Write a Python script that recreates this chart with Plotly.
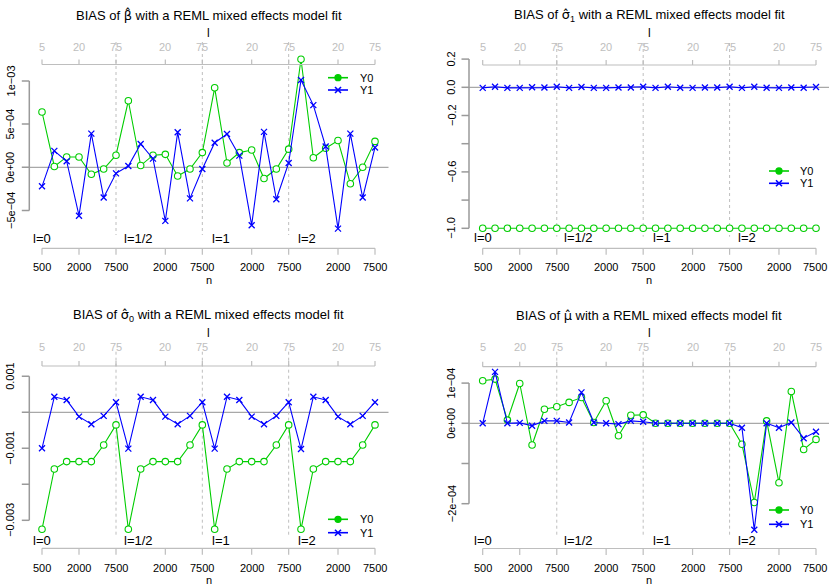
import plotly.graph_objects as go

W, H = 829, 587
FONT = "Liberation Sans, Arial, Helvetica, sans-serif"
GREEN = "#00CD00"
BLUE = "#0000FF"
AXIS_GRAY = "#9A9A9A"
LIGHT_GRAY = "#BEBEBE"
ZERO_GRAY = "#A8A8A8"
MINUS = "\u2212"

# ---------------- data ----------------
x_pos = list(range(1, 29))
axis_tick_pos = [1, 4, 7, 11, 14, 18, 21, 25, 28]
n_tick_text = ["500", "2000", "7500", "2000", "7500", "2000", "7500", "2000", "7500"]
l_tick_text = ["5", "20", "75", "20", "75", "20", "75", "20", "75"]
block_end_pos = [7, 14, 21]
block_labels = ["l=0", "l=1/2", "l=1", "l=2"]
series_names = ["Y0", "Y1"]

beta_y0 = [6.4e-4, 0.1e-4, 1.2e-4, 1.2e-4, -0.8e-4, -0.2e-4, 1.4e-4,
           7.7e-4, 0.2e-4, 1.4e-4, 1.5e-4, -1.0e-4, -0.2e-4, 1.7e-4,
           9.2e-4, 0.5e-4, 1.7e-4, 2.0e-4, -1.3e-4, -0.2e-4, 2.1e-4,
           12.5e-4, 1.1e-4, 2.2e-4, 3.1e-4, -1.9e-4, 0.0, 3.0e-4]
beta_y1 = [-2.2e-4, 1.9e-4, 0.7e-4, -5.6e-4, 3.9e-4, -3.5e-4, -0.7e-4,
           0.15e-4, 2.7e-4, 1.0e-4, -6.2e-4, 4.05e-4, -3.6e-4, -0.2e-4,
           2.85e-4, 3.85e-4, 1.35e-4, -6.7e-4, 4.1e-4, -3.7e-4, 0.5e-4,
           10.1e-4, 7.2e-4, 2.4e-4, -7.1e-4, 3.9e-4, -3.5e-4, 2.3e-4]

sigma1_y0 = [-1.0] * 28
sigma1_y1 = [-0.004, 0.004, -0.004, -0.004, 0.0, -0.002, 0.004,
             -0.004, 0.002, -0.004, -0.004, -0.002, -0.002, 0.004,
             -0.004, 0.004, -0.003, -0.004, -0.002, -0.002, 0.004,
             -0.004, 0.004, -0.003, -0.004, -0.002, -0.003, 0.002]

sigma0_y0 = [-3.25e-3, -1.575e-3, -1.37e-3, -1.37e-3, -1.37e-3, -0.91e-3, -0.35e-3,
             -3.25e-3, -1.575e-3, -1.37e-3, -1.37e-3, -1.37e-3, -0.91e-3, -0.35e-3,
             -3.25e-3, -1.575e-3, -1.37e-3, -1.37e-3, -1.37e-3, -0.91e-3, -0.35e-3,
             -3.25e-3, -1.575e-3, -1.37e-3, -1.37e-3, -1.37e-3, -0.91e-3, -0.35e-3]
sigma0_y1 = [-1.0e-3, 0.43e-3, 0.34e-3, -0.12e-3, -0.33e-3, -0.10e-3, 0.28e-3,
             -1.01e-3, 0.43e-3, 0.34e-3, -0.12e-3, -0.33e-3, -0.10e-3, 0.28e-3,
             -1.01e-3, 0.43e-3, 0.34e-3, -0.12e-3, -0.33e-3, -0.10e-3, 0.28e-3,
             -1.02e-3, 0.43e-3, 0.34e-3, -0.12e-3, -0.33e-3, -0.10e-3, 0.28e-3]

mu_y0 = [1.06e-4, 1.10e-4, 0.08e-4, 0.99e-4, -0.54e-4, 0.35e-4, 0.41e-4,
         0.52e-4, 0.64e-4, 0.02e-4, 0.56e-4, -0.31e-4, 0.20e-4, 0.21e-4,
         0.0, 0.0, 0.0, 0.0, 0.0, 0.0, 0.0,
         -0.52e-4, -1.97e-4, 0.06e-4, -1.48e-4, 0.79e-4, -0.65e-4, -0.40e-4]
mu_y1 = [0.0, 1.28e-4, 0.0, 0.01e-4, -0.06e-4, 0.06e-4, 0.06e-4,
         0.02e-4, 0.77e-4, 0.02e-4, 0.0, -0.02e-4, 0.06e-4, 0.04e-4,
         0.0, 0.0, 0.0, 0.0, 0.0, 0.0, 0.0,
         -0.11e-4, -2.65e-4, 0.0, -0.11e-4, 0.02e-4, -0.37e-4, -0.21e-4]

beta_yticks = [1e-3, 5e-4, 0.0, -5e-4]
beta_yticktext = ["1e" + MINUS + "03", "5e" + MINUS + "04", "0e+00", MINUS + "5e" + MINUS + "04"]
sigma1_yticks = [0.2, 0.0, -0.2, -0.4, -0.6, -0.8, -1.0]
sigma1_yticktext = ["0.2", "0.0", MINUS + "0.2", "", MINUS + "0.6", "", MINUS + "1.0"]
sigma0_yticks = [0.001, 0.0, -0.001, -0.002, -0.003]
sigma0_yticktext = ["0.001", "", MINUS + "0.001", "", MINUS + "0.003"]
mu_yticks = [1e-4, 0.0, -1e-4, -2e-4]
mu_yticktext = ["1e" + MINUS + "04", "0e+00", "", MINUS + "2e" + MINUS + "04"]

SYM = "<span style=\"font-family:'DejaVu Sans'\">{}</span>"
titles = [
    "BIAS of " + SYM.format("\u03b2\u0302") + " with a REML mixed effects model fit",
    "BIAS of " + SYM.format("\u03c3\u0302") + "<sub>1</sub> with a REML mixed effects model fit",
    "BIAS of " + SYM.format("\u03c3\u0302") + "<sub>0</sub> with a REML mixed effects model fit",
    "BIAS of " + SYM.format("\u03bc\u0302") + " with a REML mixed effects model fit",
]

# ---------------- layout geometry (pixels) ----------------
panels = [
    dict(y0=beta_y0, y1=beta_y1, yt=beta_yticks, ytt=beta_yticktext,
         x_first=42.0, x_last=375.0, axis_x=29.3, right=388.5,
         zero_py=167.3, ppu=43.2 / 5e-4,
         title_py=15, l_py=33, toplab_py=46.7, topaxis_py=64.5,
         botaxis_py=248.3, botlab_py=267.3, n_py=280,
         blk_py=238, blk_px=[31, 122, 210, 296],
         dash=(42, 235), leg_py=[77.7, 90], leg_px=(328, 348, 358),
         ylab_px=10.5, dom=(19, 389.5, 38, 260), right_col=False),
    dict(y0=sigma1_y0, y1=sigma1_y1, yt=sigma1_yticks, ytt=sigma1_yticktext,
         x_first=482.7, x_last=816.0, axis_x=469.0, right=829,
         zero_py=87.3, ppu=28.2 / 0.2,
         title_py=15, l_py=33, toplab_py=46.7, topaxis_py=65,
         botaxis_py=248.3, botlab_py=267.3, n_py=280,
         blk_py=237.7, blk_px=[471.7, 562.3, 651, 736],
         dash=(43, 236.7), leg_py=[171, 183.3], leg_px=(769, 789, 798),
         ylab_px=451.5, dom=(459, 829, 38, 260), right_col=True),
    dict(y0=sigma0_y0, y1=sigma0_y1, yt=sigma0_yticks, ytt=sigma0_yticktext,
         x_first=42.0, x_last=375.0, axis_x=29.3, right=388.5,
         zero_py=412.3, ppu=36.0 / 0.001,
         title_py=315, l_py=333.3, toplab_py=347.3, topaxis_py=366,
         botaxis_py=548.3, botlab_py=567.7, n_py=579.5,
         blk_py=540, blk_px=[30.7, 121.7, 210, 296],
         dash=(351.7, 536.7), leg_py=[519.3, 532.7], leg_px=(328, 348, 358),
         ylab_px=10.5, dom=(19, 389.5, 345, 562), right_col=False),
    dict(y0=mu_y0, y1=mu_y1, yt=mu_yticks, ytt=mu_yticktext,
         x_first=482.7, x_last=816.0, axis_x=469.0, right=829,
         zero_py=423.3, ppu=40.2 / 1e-4,
         title_py=315, l_py=333.3, toplab_py=347.3, topaxis_py=366.7,
         botaxis_py=548.5, botlab_py=568, n_py=579.5,
         blk_py=540, blk_px=[471.7, 562.3, 651, 736],
         dash=(351.7, 536.7), leg_py=[510, 524.3], leg_px=(769, 789, 798),
         ylab_px=451.5, dom=(459, 829, 345, 562), right_col=True),
]


def pxp(px):
    return px / W


def pyp(py):
    return 1 - py / H


fig = go.Figure()
shapes = []
annotations = []
layout_axes = {}

for k, p in enumerate(panels):
    sfx = "" if k == 0 else str(k + 1)
    xr, yr = "x" + sfx, "y" + sfx
    X0, X1 = p["x_first"], p["x_last"]
    npt = len(x_pos) - 1

    def xd(px, X0=X0, X1=X1):
        return x_pos[0] + (px - X0) / (X1 - X0) * npt

    def yd(py, p=p):
        return (p["zero_py"] - py) / p["ppu"]

    L, R, T, B = p["dom"]
    layout_axes["xaxis" + sfx] = dict(domain=[pxp(L), pxp(R)], range=[xd(L), xd(R)],
                                      visible=False, fixedrange=True, anchor=yr)
    layout_axes["yaxis" + sfx] = dict(domain=[pyp(B), pyp(T)], range=[yd(B), yd(T)],
                                      visible=False, fixedrange=True, anchor=xr)

    # zero line
    shapes.append(dict(type="line", xref=xr, yref=yr, x0=xd(p["axis_x"]), x1=xd(p["right"]),
                       y0=0, y1=0, line=dict(color=ZERO_GRAY, width=1.2), layer="below"))
    # dashed block separators
    for bx in block_end_pos:
        shapes.append(dict(type="line", xref=xr, yref=yr, x0=bx, x1=bx,
                           y0=yd(p["dash"][0]), y1=yd(p["dash"][1]),
                           line=dict(color=LIGHT_GRAY, width=1, dash="3px,3px"), layer="below"))
    # y axis
    yt = p["yt"]
    shapes.append(dict(type="line", xref=xr, yref=yr, x0=xd(p["axis_x"]), x1=xd(p["axis_x"]),
                       y0=min(yt), y1=max(yt), line=dict(color=AXIS_GRAY, width=1.5)))
    for v, txt in zip(yt, p["ytt"]):
        shapes.append(dict(type="line", xref=xr, yref=yr, x0=xd(p["axis_x"] - 7.5), x1=xd(p["axis_x"]),
                           y0=v, y1=v, line=dict(color=AXIS_GRAY, width=1.5)))
        if txt:
            annotations.append(dict(xref="paper", yref=yr, x=pxp(p["ylab_px"]), y=v, text=txt,
                                    textangle=-90, showarrow=False, xanchor="center", yanchor="middle",
                                    font=dict(family=FONT, size=11, color="#000000")))
    # top axis (l)
    ta = yd(p["topaxis_py"])
    shapes.append(dict(type="line", xref=xr, yref=yr, x0=axis_tick_pos[0], x1=axis_tick_pos[-1],
                       y0=ta, y1=ta, line=dict(color=LIGHT_GRAY, width=1.2)))
    for tx, txt in zip(axis_tick_pos, l_tick_text):
        shapes.append(dict(type="line", xref=xr, yref=yr, x0=tx, x1=tx, y0=ta,
                           y1=yd(p["topaxis_py"] - 5), line=dict(color=LIGHT_GRAY, width=1.2)))
        annotations.append(dict(xref=xr, yref="paper", x=tx, y=pyp(p["toplab_py"]), text=txt,
                                showarrow=False, xanchor="center", yanchor="middle", borderpad=0,
                                font=dict(family=FONT, size=11, color=LIGHT_GRAY)))
    # bottom axis (n)
    ba = yd(p["botaxis_py"])
    shapes.append(dict(type="line", xref=xr, yref=yr, x0=axis_tick_pos[0], x1=axis_tick_pos[-1],
                       y0=ba, y1=ba, line=dict(color=LIGHT_GRAY, width=1.2)))
    for j, (tx, txt) in enumerate(zip(axis_tick_pos, n_tick_text)):
        shapes.append(dict(type="line", xref=xr, yref=yr, x0=tx, x1=tx, y0=ba,
                           y1=yd(p["botaxis_py"] + 6.5), line=dict(color=LIGHT_GRAY, width=1.2)))
        last_edge = p["right_col"] and j == len(axis_tick_pos) - 1
        annotations.append(dict(xref=xr, yref="paper", x=tx, y=pyp(p["botlab_py"]), text=txt,
                                showarrow=False, xanchor="center", yanchor="middle", borderpad=0,
                                xshift=-1.5 if last_edge else 0,
                                font=dict(family=FONT, size=11, color="#000000")))
    # axis titles and main title
    xmid = (X0 + X1) / 2
    annotations.append(dict(xref="paper", yref="paper", x=pxp(xmid), y=pyp(p["l_py"]), text="l",
                            showarrow=False, xanchor="center", yanchor="middle",
                            font=dict(family=FONT, size=12, color="#000000")))
    annotations.append(dict(xref="paper", yref="paper", x=pxp(xmid), y=pyp(p["n_py"]), text="n",
                            showarrow=False, xanchor="center", yanchor="middle", borderpad=0,
                            font=dict(family=FONT, size=11, color="#000000")))
    annotations.append(dict(xref="paper", yref="paper", x=pxp((p["axis_x"] + p["right"]) / 2),
                            y=pyp(p["title_py"]), text=titles[k],
                            showarrow=False, xanchor="center", yanchor="middle",
                            font=dict(family=FONT, size=13, color="#000000")))
    # block labels
    for bpx, txt in zip(p["blk_px"], block_labels):
        annotations.append(dict(xref="paper", yref="paper", x=pxp(bpx), y=pyp(p["blk_py"]), text=txt,
                                showarrow=False, xanchor="left", yanchor="middle",
                                font=dict(family=FONT, size=13, color="#000000")))

    # data traces
    fig.add_trace(go.Scatter(x=x_pos, y=p["y0"], mode="lines+markers", xaxis=xr, yaxis=yr,
                             name=series_names[0], showlegend=False, cliponaxis=False,
                             line=dict(color=GREEN, width=1.1),
                             marker=dict(symbol="circle", size=6.5, color="white",
                                         line=dict(color=GREEN, width=1.1))))
    fig.add_trace(go.Scatter(x=x_pos, y=p["y1"], mode="lines+markers", xaxis=xr, yaxis=yr,
                             name=series_names[1], showlegend=False, cliponaxis=False,
                             line=dict(color=BLUE, width=1.1),
                             marker=dict(symbol="x-thin-open", size=6, color=BLUE,
                                         line=dict(color=BLUE, width=1.3))))

    # legend (manual, R style)
    lx0, lx1, ltx = p["leg_px"]
    lmid = (lx0 + lx1) / 2
    for name, col, ly in zip(series_names, [GREEN, BLUE], p["leg_py"]):
        shapes.append(dict(type="line", xref="paper", yref="paper", x0=pxp(lx0), x1=pxp(lx1),
                           y0=pyp(ly), y1=pyp(ly), line=dict(color=col, width=1.6)))
        if name == series_names[0]:
            shapes.append(dict(type="circle", xref="paper", yref="paper",
                               x0=pxp(lmid - 3), x1=pxp(lmid + 3), y0=pyp(ly + 3), y1=pyp(ly - 3),
                               line=dict(color=col, width=1.3), fillcolor=col))
        else:
            for d in (1, -1):
                shapes.append(dict(type="line", xref="paper", yref="paper",
                                   x0=pxp(lmid - 3), x1=pxp(lmid + 3),
                                   y0=pyp(ly - 3 * d), y1=pyp(ly + 3 * d),
                                   line=dict(color=col, width=1.6)))
        annotations.append(dict(xref="paper", yref="paper", x=pxp(ltx), y=pyp(ly), text=name,
                                showarrow=False, xanchor="left", yanchor="middle",
                                font=dict(family=FONT, size=11, color="#000000")))

fig.update_layout(
    width=W, height=H,
    margin=dict(l=0, r=0, t=0, b=0),
    paper_bgcolor="white", plot_bgcolor="white",
    showlegend=False,
    shapes=shapes, annotations=annotations,
    **layout_axes,
)

fig.write_html("out.html",
               config={"displayModeBar": False},
               post_script="document.body.style.margin='0px';document.body.style.overflow='hidden';")
